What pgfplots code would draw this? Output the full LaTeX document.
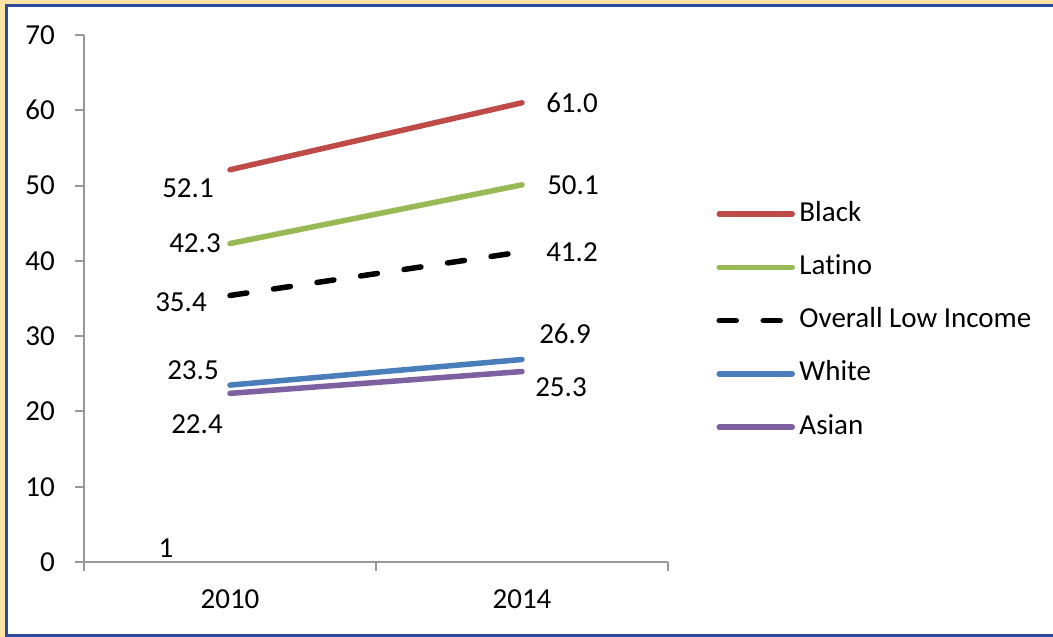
\documentclass[border=0pt]{standalone}
\usepackage{fontspec}
\setmainfont{Carlito}[Ligatures=NoCommon]
\usepackage{pgfplots}
\pgfplotsset{compat=1.18}

\definecolor{frameCream}{HTML}{FBE3A4}
\definecolor{frameBlue}{HTML}{2E4A9C}
\definecolor{axisGray}{HTML}{989898}
\definecolor{cBlack}{HTML}{BE4B48}
\definecolor{cLatino}{HTML}{98B954}
\definecolor{cWhite}{HTML}{4A7EBB}
\definecolor{cAsian}{HTML}{7D60A0}

\begin{document}
\fontsize{29}{34}\selectfont
\begin{tikzpicture}
% page and frame
\path[use as bounding box] (0pt,0pt) rectangle (1053pt,-637pt);
\fill[frameCream] (0pt,0pt) rectangle (1053pt,-637pt);
\filldraw[fill=white, draw=frameBlue, line width=3pt] (6.5pt,-5.5pt) rectangle (1070pt,-635.5pt);

\begin{axis}[
  scale only axis,
  width=584pt, height=527pt,
  at={(84pt,-562pt)}, anchor=south west,
  xmin=0.5, xmax=2.5, ymin=0, ymax=70,
  axis x line*=bottom, axis y line*=left,
  axis line style={-, draw=axisGray, line width=2pt},
  x axis line style={-, draw=axisGray, line width=2pt},
  y axis line style={-, draw=axisGray, line width=2pt},
  tick style={draw=axisGray, line width=2pt},
  tick align=outside, major tick length=9pt,
  xtick={0.5,1.5,2.5}, xticklabels={2010,2014},
  x tick label as interval,
  ytick={0,10,...,70},
  /pgf/number format/assume math mode=true,
  yticklabel style={anchor=east, inner sep=0pt, xshift=-20pt},
  xticklabel style={anchor=north, inner sep=0pt, yshift=-18pt},
  clip=false,
  legend cell align=left,
  legend style={draw=none, fill=none, at={(rel axis cs:1.083,0.458)}, anchor=west,
    inner sep=0pt, outer sep=0pt, row sep=27.3pt,
    nodes={inner sep=0pt, text height=20pt, text depth=6pt}},
  legend image code/.code={\draw[#1] (0pt,0pt) -- (73pt,0pt); \path (77.5pt,0pt);},
]
\addplot[cBlack, line width=5.5pt, line cap=round] coordinates {(1,52.1) (2,61.0)};
\addlegendentry{Black}
\addplot[cLatino, line width=5.5pt, line cap=round] coordinates {(1,42.3) (2,50.1)};
\addlegendentry{Latino}
\addplot[black, line width=5.5pt, line cap=round, dash pattern=on 17pt off 27pt] coordinates {(1,35.4) (2,41.2)};
\addlegendentry{Overall Low Income}
\addplot[cWhite, line width=5.5pt, line cap=round] coordinates {(1,23.5) (2,26.9)};
\addlegendentry{White}
\addplot[cAsian, line width=5.5pt, line cap=round] coordinates {(1,22.4) (2,25.3)};
\addlegendentry{Asian}

% value labels
\node[xshift=-42pt, yshift=-18pt] at (axis cs:1,52.1) {52.1};
\node[xshift=-35pt] at (axis cs:1,42.3) {42.3};
\node[xshift=-49pt, yshift=-7pt] at (axis cs:1,35.4) {35.4};
\node[xshift=-37pt, yshift=15pt] at (axis cs:1,23.5) {23.5};
\node[xshift=-33pt, yshift=-31pt] at (axis cs:1,22.4) {22.4};
\node[xshift=50pt] at (axis cs:2,61.0) {61.0};
\node[xshift=51pt] at (axis cs:2,50.1) {50.1};
\node[xshift=50pt] at (axis cs:2,41.2) {41.2};
\node[xshift=43pt, yshift=26pt] at (axis cs:2,26.9) {26.9};
\node[xshift=39pt, yshift=-16pt] at (axis cs:2,25.3) {25.3};
\node at (axis cs:0.781,1.86) {1};
\end{axis}
\end{tikzpicture}
\end{document}
